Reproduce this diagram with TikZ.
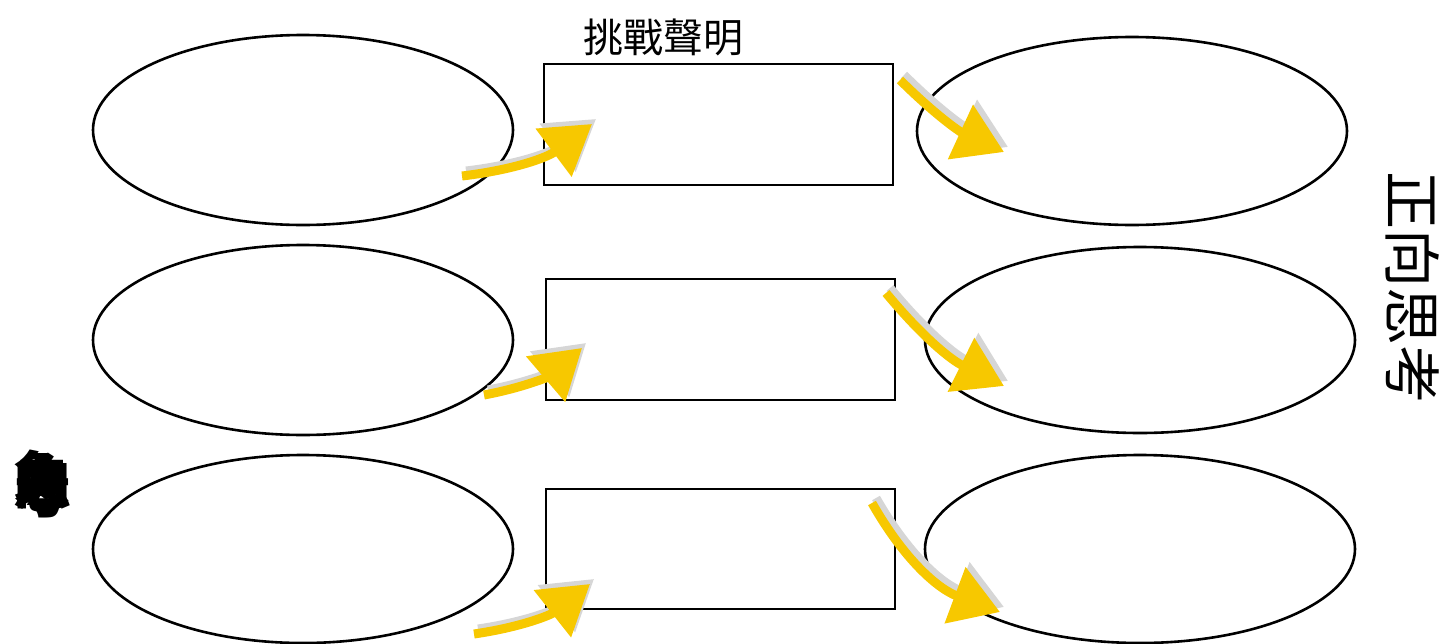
\documentclass[tikz,border=0pt]{standalone}
\usepackage{fontspec}
\newfontfamily\cjk{Noto Sans CJK TC}
\usetikzlibrary{arrows.meta}
\definecolor{arrowyellow}{HTML}{F7C800}
\begin{document}
\begin{tikzpicture}[x=1pt,y=-1pt,
  box/.style={draw=black,line width=2.6pt},
  yarrow/.style={arrowyellow,line width=9pt,-{Triangle[length=48pt,width=58pt]}},
  sarrow/.style={black!16,line width=9pt,-{Triangle[length=48pt,width=58pt]}},
  sh/.style={xshift=4pt,yshift=5pt},
  every node/.style={font=\cjk}]
\useasboundingbox (0,0) rectangle (1444,643);
% left ellipses
\draw[box] (303,130) ellipse [x radius=210, y radius=95];
\draw[box] (303,340) ellipse [x radius=210, y radius=95];
\draw[box] (303,549) ellipse [x radius=210, y radius=94];
% right ellipses
\draw[box] (1132,131) ellipse [x radius=215, y radius=94];
\draw[box] (1140,340) ellipse [x radius=215, y radius=93];
\draw[box] (1140,549) ellipse [x radius=215, y radius=94];
% rectangles
\node[box,minimum width=349pt,minimum height=121pt,inner sep=0pt] (r1) at (718.5,124.5) {};
\node[box,minimum width=349pt,minimum height=121pt,inner sep=0pt] (r2) at (720.5,339.5) {};
\node[box,minimum width=349pt,minimum height=120pt,inner sep=0pt] (r3) at (720.5,549) {};
% texts
\node[font=\cjk\fontsize{40pt}{40pt}\selectfont,anchor=south] (title) at (663,60) {挑戰聲明};
\node[font=\cjk\fontsize{58pt}{58pt}\selectfont,rotate=-90] (pos) at (1413,287) {正向思考};
\node[font=\cjk\bfseries\fontsize{58pt}{58pt}\selectfont,inner sep=0pt] (n1) at (42,478) {負};
\node[font=\cjk\bfseries\fontsize{58pt}{58pt}\selectfont,inner sep=0pt] (n2) at (42,482) {向};
\node[font=\cjk\bfseries\fontsize{58pt}{58pt}\selectfont,inner sep=0pt] (n3) at (42,486) {思};
\node[font=\cjk\bfseries\fontsize{58pt}{58pt}\selectfont,inner sep=0pt] (n4) at (42,490) {考};
% arrow coordinates
\coordinate (a1s) at (462,176); \coordinate (a1e) at (592,124);
\coordinate (b1s) at (900,80);  \coordinate (b1e) at (1004,152);
\coordinate (a2s) at (484,395); \coordinate (a2e) at (582,348);
\coordinate (b2s) at (886,293); \coordinate (b2e) at (1004,386);
\coordinate (a3s) at (474,634); \coordinate (a3e) at (590,584);
\coordinate (b3s) at (872,503); \coordinate (b3e) at (1000,612);
% shadows
\draw[sarrow] ([sh]a1s) to[bend right=15] ([sh]a1e);
\draw[sarrow] ([sh]b1s) to[bend right=10] ([sh]b1e);
\draw[sarrow] ([sh]a2s) to[bend right=15] ([sh]a2e);
\draw[sarrow] ([sh]b2s) to[bend right=12] ([sh]b2e);
\draw[sarrow] ([sh]a3s) to[bend right=15] ([sh]a3e);
\draw[sarrow] ([sh]b3s) to[bend right=20] ([sh]b3e);
% arrows
\draw[yarrow] (a1s) to[bend right=15] (a1e);
\draw[yarrow] (b1s) to[bend right=10] (b1e);
\draw[yarrow] (a2s) to[bend right=15] (a2e);
\draw[yarrow] (b2s) to[bend right=12] (b2e);
\draw[yarrow] (a3s) to[bend right=15] (a3e);
\draw[yarrow] (b3s) to[bend right=20] (b3e);
\end{tikzpicture}
\end{document}
